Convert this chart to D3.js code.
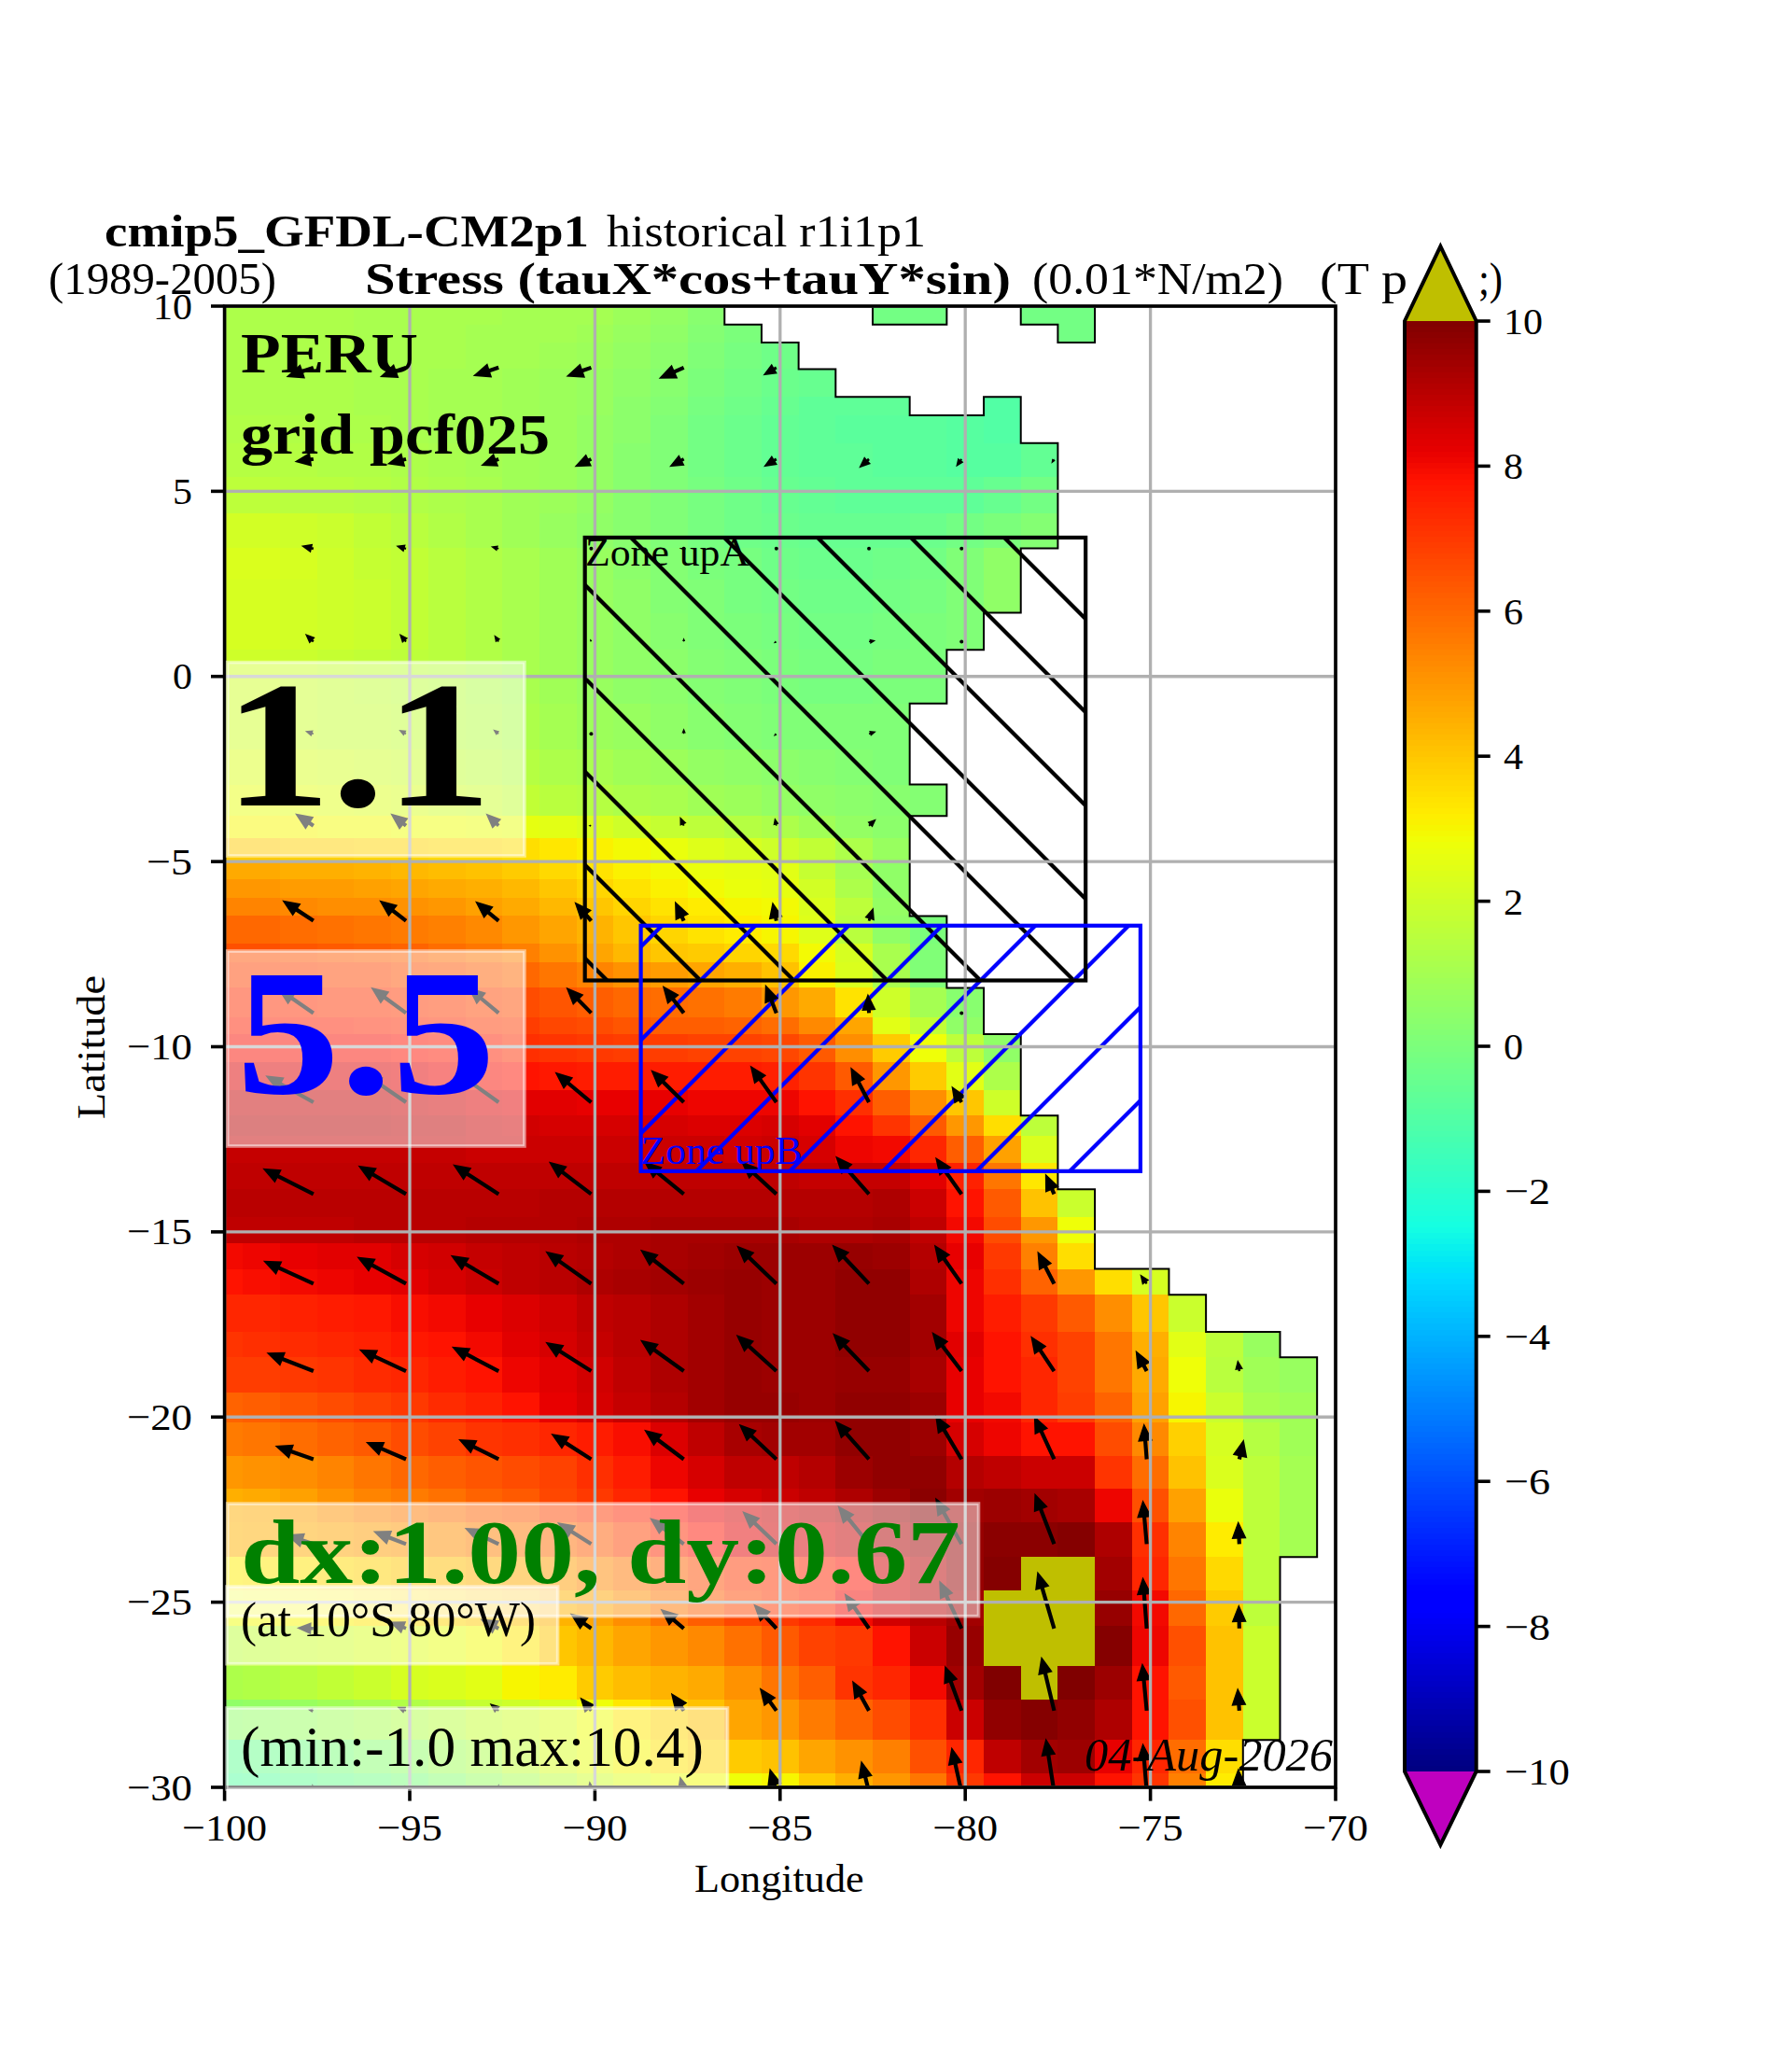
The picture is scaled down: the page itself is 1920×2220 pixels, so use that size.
<!DOCTYPE html>
<html><head><meta charset="utf-8">
<script src="https://cdnjs.cloudflare.com/ajax/libs/d3/7.8.5/d3.min.js"></script>
<style>html,body{margin:0;padding:0;background:#fff}svg{display:block}text{font-family:"Liberation Serif",serif}</style>
</head><body><div id="c"></div>
<script>
const lonTicks=[-100,-95,-90,-85,-80,-75,-70];
const latTicks=[10,5,0,-5,-10,-15,-20,-25,-30];
const cbarTicks=[10,8,6,4,2,0,-2,-4,-6,-8,-10];
const cellLons=[-100,-99,-98,-97,-96,-95,-94,-93,-92,-91,-90,-89,-88,-87,-86,-85,-84,-83,-82,-81,-80,-79,-78,-77,-76,-75,-74,-73,-72,-71,-70];
const latEdges=[10,9.5,9.02,8.3,7.55,7.05,6.3,5.4,4.4,3.46,2.61,1.72,0.72,-0.73,-1.98,-2.92,-3.77,-4.37,-4.97,-5.47,-5.97,-6.47,-7.22,-7.71,-8.41,-9.21,-9.66,-10.41,-11.16,-11.86,-12.41,-13.15,-13.85,-14.6,-15.3,-16.0,-16.7,-17.7,-18.39,-19.34,-20.14,-21.04,-21.94,-22.83,-23.78,-24.68,-25.63,-26.73,-27.62,-28.72,-29.62,-30];
const _=null;
// stress values per latitude row, from -100 eastward; a missing or null entry is land
const stress=[
[1.2,1.2,1.2,1.2,1.1,1.1,1.1,1.1,1.0,1.0,1.0,.8,.6,.3,_,_,_,_,-.2,-.2,_,_,-.2,-.2],
[1.2,1.2,1.2,1.2,1.1,1.1,1.1,1.0,1.0,1.0,.9,.7,.5,.2,0,_,_,_,_,_,_,_,_,-.2],
[1.2,1.2,1.2,1.2,1.1,1.1,1.1,1.0,1.0,.9,.8,.6,.4,.1,-.1,-.3],
[1.2,1.2,1.2,1.2,1.1,1.1,1.0,1.0,.9,.8,.7,.5,.3,0,-.2,-.4,-.5],
[1.2,1.2,1.2,1.2,1.1,1.1,1.0,1.0,.9,.8,.7,.4,.2,-.1,-.3,-.5,-.7,-.7,-.7,_,_,-1.0],
[1.3,1.3,1.3,1.2,1.2,1.1,1.0,1.0,.9,.8,.6,.4,.1,-.2,-.4,-.6,-.7,-.8,-.8,-.8,-.9,-1.0],
[1.4,1.4,1.4,1.3,1.3,1.2,1.1,1.0,.9,.8,.6,.3,.1,-.2,-.4,-.6,-.7,-.7,-.8,-.8,-.9,-.9,-.6],
[1.6,1.6,1.5,1.5,1.4,1.3,1.2,1.1,.9,.8,.6,.3,.1,-.1,-.3,-.5,-.6,-.7,-.7,-.7,-.7,-.5,-.2],
[2.1,2.1,2.0,1.9,1.7,1.5,1.3,1.1,.9,.7,.5,.3,.1,-.1,-.3,-.4,-.5,-.5,-.5,-.4,-.2,0,.2],
[2.3,2.3,2.2,2.0,1.8,1.7,1.5,1.3,1.1,.9,.7,.4,.2,0,-.1,-.3,-.4,-.4,-.3,-.2,.1,.5],
[2.2,2.2,2.1,2.0,1.9,1.7,1.5,1.3,1.1,.9,.7,.5,.2,.1,-.1,-.2,-.3,-.3,-.2,-.1,.1,.5],
[2.2,2.2,2.1,2.0,1.9,1.7,1.5,1.3,1.1,.9,.7,.5,.3,.1,0,-.1,-.2,-.2,-.1,0,.1],
[2.0,2.0,1.9,1.8,1.7,1.6,1.5,1.3,1.1,.9,.7,.5,.4,.2,.1,0,-.1,-.1,0,0],
[2.0,2.0,1.9,1.8,1.8,1.7,1.5,1.4,1.2,1.0,.8,.7,.5,.3,.2,.1,.1,.1,.1],
[2.3,2.3,2.2,2.1,2.0,1.9,1.7,1.6,1.4,1.2,1.1,.9,.8,.6,.5,.4,.3,.2,.1],
[2.6,2.6,2.5,2.4,2.3,2.2,2.0,1.9,1.7,1.5,1.4,1.2,1.1,.9,.8,.6,.5,.4,.3,.2],
[3.0,3.0,3.0,2.9,2.9,2.8,2.8,2.7,2.6,2.5,2.3,2.0,1.8,1.6,1.4,1.2,.9,.6,.4],
[3.9,3.9,3.8,3.8,3.7,3.7,3.6,3.6,3.5,3.3,3.1,2.9,2.7,2.4,2.2,2.0,1.7,1.2,.7],
[4.6,4.6,4.5,4.5,4.4,4.3,4.2,4.1,3.9,3.6,3.4,3.1,2.9,2.7,2.6,2.5,1.8,1.0,.5],
[5.0,5.0,4.9,4.9,4.8,4.7,4.6,4.5,4.3,4.0,3.7,3.4,3.1,2.9,2.7,2.6,2.1,1.2,.5],
[5.4,5.4,5.3,5.2,5.2,5.1,5.0,4.8,4.6,4.3,4.0,3.7,3.4,3.2,3.0,2.9,2.3,1.6,.6],
[6.0,6.0,5.9,5.8,5.7,5.6,5.5,5.3,5.0,4.7,4.4,4.0,3.7,3.4,3.2,3.0,2.4,1.5,.5,0],
[6.5,6.5,6.4,6.3,6.2,6.1,5.9,5.7,5.5,5.1,4.7,4.3,4.0,3.9,3.7,3.6,2.9,2.2,1.1,.1],
[6.8,6.8,6.8,6.7,6.7,6.5,6.4,6.2,6.0,5.7,5.4,5.1,4.9,4.7,4.5,4.1,3.1,2.3,1.1,.1],
[7.2,7.2,7.2,7.1,7.1,7.0,6.9,6.7,6.6,6.4,6.2,6.0,5.9,5.8,5.6,5.0,4.6,3.4,2.0,1.0,.3],
[7.5,7.5,7.5,7.5,7.4,7.3,7.2,7.0,6.9,6.7,6.6,6.4,6.2,6.2,6.1,5.9,5.3,4.7,2.5,1.7,.5],
[7.9,7.9,7.9,7.9,7.9,7.8,7.7,7.5,7.2,7.1,7.0,6.9,6.9,6.8,6.8,6.7,6.3,5.2,3.9,2.8,1.6,.5],
[8.4,8.4,8.4,8.4,8.4,8.3,8.1,7.9,7.8,7.7,7.6,7.6,7.6,7.6,7.6,7.5,7.1,6.3,5.0,3.9,2.5,1.2],
[8.8,8.8,8.8,8.8,8.8,8.7,8.6,8.4,8.3,8.3,8.2,8.2,8.2,8.1,8.1,8.1,7.8,7.2,6.2,5.2,4.0,2.0],
[9.0,9.0,9.0,9.0,9.0,8.9,8.9,8.7,8.6,8.5,8.5,8.5,8.5,8.4,8.4,8.5,8.3,7.8,7.1,6.3,5.0,3.5,1.6],
[8.8,8.8,8.8,8.8,8.8,8.8,8.8,8.7,8.7,8.7,8.7,8.7,8.7,8.7,8.6,8.7,8.5,8.1,8.0,7.4,6.2,4.8,2.3],
[8.9,8.9,8.9,8.9,8.9,8.9,8.9,8.9,8.9,8.9,8.9,8.9,8.9,8.9,8.9,8.9,8.8,8.8,8.8,8.3,7.5,5.7,3.3],
[9.0,9.0,9.0,9.0,9.0,9.0,9.0,9.0,9.0,9.1,9.1,9.1,9.1,9.1,9.1,9.1,9.1,9.1,9.2,8.7,7.8,6.3,4.1,1.9],
[8.9,8.9,8.9,8.9,9.0,9.0,9.0,9.1,9.1,9.1,9.2,9.2,9.3,9.3,9.3,9.3,9.2,9.2,9.3,8.9,8.0,6.6,5.0,2.8],
[8.0,8.1,8.2,8.3,8.3,8.5,8.6,8.8,8.9,9.0,9.1,9.2,9.3,9.4,9.5,9.5,9.5,9.6,9.5,9.1,8.2,7.0,5.5,3.5],
[7.8,7.9,8.0,8.1,8.2,8.3,8.5,8.7,8.9,9.0,9.2,9.3,9.4,9.5,9.6,9.5,9.5,9.7,9.7,9.2,8.1,7.2,6.1,5.0,3.5,2.2],
[7.4,7.4,7.5,7.6,7.7,7.9,8.0,8.2,8.4,8.6,8.9,9.0,9.2,9.4,9.6,9.5,9.5,9.7,9.7,9.4,8.1,7.6,7.0,6.3,5.2,4.0,1.9],
[7.1,7.2,7.3,7.4,7.5,7.7,7.8,8.0,8.3,8.5,8.8,9.0,9.2,9.4,9.6,9.5,9.5,9.7,9.7,9.4,8.3,7.8,7.2,6.8,5.7,4.5,2.5,1.6,.7],
[6.9,6.9,7.0,7.1,7.3,7.4,7.6,7.8,8.1,8.3,8.6,8.9,9.2,9.4,9.6,9.5,9.5,9.6,9.6,9.3,8.2,7.8,7.4,6.8,5.7,4.6,2.8,1.5,.9,.7],
[6.1,6.2,6.4,6.6,6.8,7.0,7.3,7.5,7.8,8.2,8.5,8.8,9.1,9.4,9.6,9.6,9.5,9.7,9.7,9.5,8.2,8.0,7.4,6.9,6.1,4.8,3.0,1.9,1.1,.9],
[5.6,5.7,5.9,6.1,6.3,6.6,6.8,7.1,7.2,7.4,7.6,7.9,8.4,8.9,9.3,9.4,9.4,9.7,9.7,9.5,8.5,8.1,7.8,7.8,6.6,5.3,3.8,2.2,1.4,.9],
[5.0,5.1,5.2,5.4,5.7,6.0,6.2,6.4,6.6,6.8,7.2,7.6,8.1,8.5,8.9,8.9,9.1,9.5,9.7,9.7,9.1,8.9,8.7,8.7,7.1,5.9,4.1,2.3,1.6,1.0],
[4.5,4.6,4.8,5.1,5.4,5.6,5.8,6.1,6.3,6.7,7.0,7.4,7.8,8.2,8.5,8.7,8.9,9.2,9.5,9.8,9.4,9.5,9.4,9.3,8.1,6.5,4.8,2.7,1.6,1.0],
[4.4,4.5,4.6,4.7,4.9,5.0,5.2,5.5,5.7,5.9,6.3,6.8,7.3,7.8,8.3,8.6,8.5,8.8,9.2,9.4,9.6,9.8,9.8,9.9,9.2,7.2,5.4,3.2,1.6,1.0],
[3.2,3.3,3.4,3.6,3.8,4.0,4.2,4.4,4.6,4.9,5.3,5.7,6.1,6.6,7.0,7.1,7.4,7.8,8.6,9.0,9.6,9.9,10.3,10.4,9.4,7.4,5.7,3.6,1.6],
[2.8,2.9,3.0,3.1,3.3,3.5,3.7,3.9,4.1,4.4,4.7,5.2,5.7,6.2,6.7,7.0,7.3,8.0,8.6,9.0,9.4,10.2,10.3,10.3,9.6,8.0,6.0,3.9,1.6],
[1.6,1.7,1.9,2.0,2.2,2.4,2.6,2.9,3.3,4.0,4.3,4.7,5.0,5.3,5.8,6.3,6.8,7.0,7.8,8.7,9.6,10.2,10.4,10.3,9.9,8.1,6.5,4.1,1.9],
[1.2,1.3,1.5,1.7,1.9,2.2,2.3,2.5,3.0,3.2,3.9,4.2,4.4,4.6,5.1,5.7,6.2,7.1,7.4,8.0,9.4,10.0,10.2,10.0,9.5,7.8,6.3,4.1,1.9],
[.5,.6,.7,.9,1.1,1.3,1.5,1.8,2.0,2.3,2.8,3.3,3.7,4.1,4.7,5.0,5.6,6.1,6.6,7.2,8.7,9.7,9.9,9.7,9.2,7.8,6.5,4.1,1.9],
[-.6,-.4,-.2,0,.3,.5,.9,1.2,1.7,2.2,2.6,3.0,3.4,3.7,3.9,4.1,4.7,5.1,5.5,6.5,7.4,8.9,9.4,9.5,8.2,7.4,5.9,3.5],
[-.9,-.8,-.6,-.4,-.2,0,.3,.7,1.1,1.6,2.0,2.4,2.7,2.9,2.8,3.0,3.9,4.5,5.0,5.7,7.0,7.8,8.7,8.7,7.8,7.1,5.5,3.2]
];
const arrowLons=[-97.6,-95.1,-92.6,-90.1,-87.6,-85.1,-82.6,-80.1,-77.6,-75.1,-72.6];
const arrowLats=[8.34,5.87,3.45,.94,-1.55,-4.03,-6.6,-9.09,-11.5,-13.98,-16.4,-18.76,-21.14,-23.43,-25.71,-27.93,-30.12];
const arrowU=[
[-4.9,-4.7,-4.6,-4.5,-4.5,-2.4],
[-3.4,-3.4,-3.2,-3.0,-2.6,-2.3,-1.8,-1,-.5],
[-2.2,-1.8,-1.4,0,0,0,0,0],
[-1.5,-1.2,-.8,-.2,0,-.5,1.2,0],
[-1.5,-1.3,-1,-.2,0,-.5,1.3],
[-3.3,-2.8,-2.3,-.5,-.7,-.3,1.3],
[-5.6,-4.8,-4.2,-3,-1.6,-.7,.8],
[-6.4,-6.3,-5.5,-4.5,-3.8,-2,-.2,0],
[-8.6,-7.4,-7.4,-6.5,-5.9,-4.7,-3.3,-1.8],
[-9.1,-8.6,-8.2,-7.6,-7.1,-6.3,-6,-4.7,-1.6],
[-9,-8.8,-8.6,-8.2,-7.8,-7.1,-6.6,-4.9,-3,-1.2],
[-8.4,-8.4,-8.4,-8.2,-7.8,-7.2,-6.5,-5.3,-4.2,-2,-.3],
[-6.9,-7.2,-7.2,-7.2,-7.1,-6.7,-6.1,-4.7,-3.6,-.5,.8],
[-4.9,-5.9,-6.1,-6.1,-6.1,-6.1,-5.6,-4.7,-3.5,-.7,-.2],
[-3,-3,-3.3,-3.8,-4.2,-4.1,-4.4,-4,-3,-.7,-.1],
[-1,-1.6,-1.6,-2,-2.3,-3,-3,-3,-2.3,-.8,-.3],
[-.2,-.2,0,-.3,-.7,-1.2,-1.4,-1.8,-1.5,-.7,-.2]
];
const arrowV=[
[-1.7,-1.7,-1.5,-1.6,-2,-1.4],
[-.5,-.9,-1.2,-1.4,-1.4,-1.4,-1.6,-1.4,-.8],
[.5,.5,.4,0,0,0,0,0],
[1.4,1.4,1.2,.5,.7,-.3,.2,0],
[.5,.7,.8,.4,1,-.4,.4],
[2.2,2.2,2.2,0,1.6,1.4,1.2],
[3.7,3.7,3.5,3.4,3.5,3.4,2.4],
[4.4,4.6,4.6,4.6,4.9,5.1,3.5,0],
[4.8,5.1,5.3,5.4,5.8,6.6,6.3,2.9],
[4.6,5.1,5.3,5.8,5.8,5.8,6.8,6.6,3.7],
[4.1,4.8,5.1,5.8,6.1,6.8,7,7,5.8,1.7],
[3.3,3.9,4.4,5.2,5.6,6.5,6.8,7,6.3,3.7,2],
[2.4,3.1,3.6,4.6,5.3,6.3,6.9,7.9,7.8,6.4,3.6],
[1.7,2.3,2.9,3.9,4.7,5.9,6.9,8.3,9.1,7.9,4.1],
[.1,1.2,1.7,2.7,3.5,4.4,6.3,8.6,10.2,9.2,4.3],
[.2,.7,1.3,2.4,3.2,4.1,5.4,8.1,9.7,8.5,4.1],
[1.4,1.2,1.4,1.9,2.8,4.2,5.6,8,9.6,8.7,4.2]
];

const W=1920,H=2220;
const L=240.6,R=1431,T=328,B=1915;
const x=d3.scaleLinear().domain([-100,-70]).range([L,R]);
const y=d3.scaleLinear().domain([10,-30]).range([T,B]);
const vecPx=d3.scaleLinear().domain([0,1]).range([0,6]);
const rS=d3.scaleLinear().domain([0,.35,.66,.89,1]).range([0,0,1,1,.5]).clamp(true);
const gS=d3.scaleLinear().domain([0,.125,.375,.64,.91,1]).range([0,0,1,1,0,0]).clamp(true);
const bS=d3.scaleLinear().domain([0,.11,.34,.65,1]).range([.5,1,1,0,0]).clamp(true);
const tS=d3.scaleLinear().domain([-10,10]).range([0,1]);
const OVER='#bfbf00',UNDER='#bf00bf';
function jet(v){
  if(v>10)return OVER; if(v<-10)return UNDER;
  const t=tS(v);
  return d3.rgb(rS(t)*255,gS(t)*255,bS(t)*255).formatHex();
}
const LW=3.6, MINUS='\u2212';
const svg=d3.select('#c').append('svg').attr('width',W).attr('height',H).attr('viewBox',`0 0 ${W} ${H}`);
svg.append('rect').attr('width',W).attr('height',H).attr('fill','#fff');
const defs=svg.append('defs');
defs.append('clipPath').attr('id','plot').append('rect').attr('x',L).attr('y',T).attr('width',R-L).attr('height',B-T);
function txt(p,x0,x1,base,s,o={}){
  const t=p.append('text').attr('x',x0).attr('y',base).text(s)
    .attr('font-size',o.size||40).attr('fill',o.fill||'#000');
  if(o.bold)t.attr('font-weight','bold');
  if(o.italic)t.attr('font-style','italic');
  if(x1!=null)t.attr('textLength',x1-x0).attr('lengthAdjust','spacingAndGlyphs');
  return t;
}
// titles
txt(svg,112,631,264,'cmip5_GFDL-CM2p1',{size:48,bold:true});
txt(svg,650,992,264,'historical r1i1p1',{size:48});
txt(svg,52,296,315,'(1989-2005)',{size:48});
txt(svg,391,1083,315,'Stress (tauX*cos+tauY*sin)',{size:48,bold:true});
txt(svg,1106,1375,315,'(0.01*N/m2)',{size:48});
txt(svg,1414,1508,315,'(T p',{size:48});
txt(svg,1584,1610,315,';)',{size:48});

const plot=svg.append('g').attr('clip-path','url(#plot)');
// cells
const cells=[];
stress.forEach((row,j)=>row.forEach((v,i)=>{ if(v!==null&&v!==undefined)cells.push({i,j,v}); }));
plot.append('g').attr('shape-rendering','crispEdges').selectAll('rect').data(cells).join('rect')
  .attr('x',d=>x(cellLons[d.i]-.5)).attr('width',d=>x(cellLons[d.i]+.5)-x(cellLons[d.i]-.5)+.5)
  .attr('y',d=>y(latEdges[d.j])).attr('height',d=>y(latEdges[d.j+1])-y(latEdges[d.j])+.5)
  .attr('fill',d=>jet(d.v));
// coastline: every edge between an ocean cell and a land cell
const isSea=(j,i)=>{const r=stress[j];if(!r)return null;const v=r[i];return !(v===null||v===undefined);};
let coast='';
stress.forEach((row,j)=>cellLons.forEach((lon,i)=>{
  if(!isSea(j,i))return;
  const x0=x(lon-.5),x1=x(lon+.5),y0=y(latEdges[j]),y1=y(latEdges[j+1]);
  if(i<30&&!isSea(j,i+1))coast+=`M${x1},${y0}L${x1},${y1}`;
  if(i>0&&!isSea(j,i-1))coast+=`M${x0},${y0}L${x0},${y1}`;
  if(j>0&&!isSea(j-1,i))coast+=`M${x0},${y0}L${x1},${y0}`;
  if(j<stress.length-1&&!isSea(j+1,i))coast+=`M${x0},${y1}L${x1},${y1}`;
}));
plot.append('path').attr('d',coast).attr('fill','none').attr('stroke','#000').attr('stroke-width',2).attr('stroke-linecap','square');
// zones
const zoneA={lon:[-90.27,-76.75],lat:[3.75,-8.21],color:'#000',sign:1,c0:0};
const zoneB={lon:[-88.76,-75.27],lat:[-6.73,-13.36],color:'#0000ff',sign:-1,c0:1801};
[zoneA,zoneB].forEach((z,k)=>{
  const xa=x(z.lon[0]),xb=x(z.lon[1]),ya=y(z.lat[0]),yb=y(z.lat[1]);
  defs.append('clipPath').attr('id','z'+k).append('rect').attr('x',xa).attr('y',ya).attr('width',xb-xa).attr('height',yb-ya);
  const g=plot.append('g').attr('clip-path',`url(#z${k})`);
  const lines=d3.range(-30,30).map(n=>z.c0+n*100);
  g.selectAll('line').data(lines).join('line')
    .attr('x1',xa-50).attr('x2',xb+50)
    .attr('y1',c=>z.sign>0?xa-50+c:c-(xa-50))
    .attr('y2',c=>z.sign>0?xb+50+c:c-(xb+50))
    .attr('stroke',z.color).attr('stroke-width',4.2);
});
// arrows
const aw=2.1,hw=8,hl=22,hal=19;
function arrowPath(dx,dy){
  const len=Math.hypot(dx,dy);
  if(len<3)return null;
  const s=len<hl?len/hl:1, a=Math.atan2(dy,dx), ca=Math.cos(a), sa=Math.sin(a);
  const ws=aw*s,hs=hw*s,ax=len-hal*s;
  const pts=[[0,-ws],[ax,-ws],[ax,-hs],[len,0],[ax,hs],[ax,ws],[0,ws]];
  return 'M'+pts.map(p=>[p[0]*ca-p[1]*sa,p[0]*sa+p[1]*ca].map(n=>n.toFixed(2)).join(',')).join('L')+'Z';
}
const arrows=[];
arrowU.forEach((row,j)=>row.forEach((u,i)=>arrows.push({lon:arrowLons[i],lat:arrowLats[j],u,v:arrowV[j][i]})));
const ag=plot.append('g');
arrows.forEach(d=>{
  const dx=Math.sign(d.u)*vecPx(Math.abs(d.u)),dy=-Math.sign(d.v)*vecPx(Math.abs(d.v));
  const p=arrowPath(dx,dy);
  const g=ag.append('g').attr('transform',`translate(${x(d.lon)},${y(d.lat)})`);
  if(p)g.append('path').attr('d',p).attr('fill','#000');
  else g.append('circle').attr('r',2).attr('fill','#000');
});
// grid
const grid=svg.append('g').attr('stroke','#b0b0b0').attr('stroke-width',3.3);
grid.selectAll('.gx').data(lonTicks).join('line').attr('x1',d=>x(d)).attr('x2',d=>x(d)).attr('y1',T).attr('y2',B);
grid.selectAll('.gy').data(latTicks).join('line').attr('y1',d=>y(d)).attr('y2',d=>y(d)).attr('x1',L).attr('x2',R);
// zone frames and labels
[zoneA,zoneB].forEach(z=>{
  svg.append('rect').attr('x',x(z.lon[0])).attr('y',y(z.lat[0])).attr('width',x(z.lon[1])-x(z.lon[0])).attr('height',y(z.lat[1])-y(z.lat[0]))
    .attr('fill','none').attr('stroke',z.color).attr('stroke-width',4.2);
});
txt(svg,627,803,606,'Zone upA',{size:42});
txt(svg,686.6,859.5,1247,'Zone upB',{size:42,fill:'#0000ff'});
// spines and ticks
const frame=svg.append('g');
frame.append('rect').attr('x',L).attr('y',T).attr('width',R-L).attr('height',B-T).attr('fill','none').attr('stroke','#000').attr('stroke-width',LW);
frame.selectAll('.tx').data(lonTicks).join('line').attr('x1',d=>x(d)).attr('x2',d=>x(d)).attr('y1',B).attr('y2',B+14.6).attr('stroke','#000').attr('stroke-width',LW);
frame.selectAll('.ty').data(latTicks).join('line').attr('y1',d=>y(d)).attr('y2',d=>y(d)).attr('x1',L-14.6).attr('x2',L).attr('stroke','#000').attr('stroke-width',LW);
const fmt=d=>(d<0?MINUS:'')+Math.abs(d);
const lblW=d=>String(Math.abs(d)).length*21+(d<0?28:0);
frame.selectAll('.lx').data(lonTicks).join('text').attr('x',d=>x(d)).attr('y',1972).attr('text-anchor','middle').attr('font-size',41)
  .attr('textLength',lblW).attr('lengthAdjust','spacingAndGlyphs').text(fmt);
frame.selectAll('.ly').data(latTicks).join('text').attr('x',206).attr('y',d=>y(d)+13.5).attr('text-anchor','end').attr('font-size',41)
  .attr('textLength',lblW).attr('lengthAdjust','spacingAndGlyphs').text(fmt);
txt(svg,744,925.7,2026.7,'Longitude',{size:42});
svg.append('text').attr('transform','translate(111.7,1199) rotate(-90)').attr('font-size',42).attr('textLength',154).attr('lengthAdjust','spacingAndGlyphs').text('Latitude');
// text boxes
const boxes=[
 {x:243.7,y:709.6,w:318.3,h:207.4},
 {x:243.7,y:1019,w:318.3,h:209},
 {x:243.7,y:1611,w:804.8,h:120.7},
 {x:243,y:1700,w:354.6,h:82.7},
 {x:243,y:1830,w:536.5,h:87}
];
svg.append('g').selectAll('rect').data(boxes).join('rect')
  .attr('x',d=>d.x).attr('y',d=>d.y).attr('width',d=>d.w).attr('height',d=>d.h)
  .attr('fill','#fff').attr('fill-opacity',.5).attr('stroke','#fff').attr('stroke-opacity',.5).attr('stroke-width',LW);
txt(svg,258,448,399,'PERU',{size:62,bold:true});
txt(svg,258,589,486,'grid pcf025',{size:62,bold:true});
txt(svg,240,527,863,'1.1',{size:193,bold:true});
txt(svg,253,531,1171.4,'5.5',{size:193,bold:true,fill:'#0000ff'});
txt(svg,258,1029,1696,'dx:1.00, dy:0.67',{size:97,bold:true,fill:'#008000'});
txt(svg,258,574,1753,'(at 10°S 80°W)',{size:52});
txt(svg,258,754,1891.7,'(min:-1.0 max:10.4)',{size:62});
txt(svg,1162,1428,1896.7,'04-Aug-2026',{size:50,italic:true});
// colorbar
const cbL=1505,cbR=1581.7,cbT=344,cbB=1898,cbMid=(cbL+cbR)/2;
const cy=d3.scaleLinear().domain([10,-10]).range([cbT,cbB]);
const cb=svg.append('g');
cb.append('g').attr('shape-rendering','crispEdges').selectAll('rect').data(d3.range(256)).join('rect')
  .attr('x',cbL).attr('width',cbR-cbL)
  .attr('y',i=>cy(10-i*20/256)).attr('height',(cbB-cbT)/256+1)
  .attr('fill',i=>jet(10-(i+.5)*20/256));
cb.append('path').attr('d',`M${cbL},${cbT}L${cbMid},264L${cbR},${cbT}Z`).attr('fill',OVER);
cb.append('path').attr('d',`M${cbL},${cbB}L${cbMid},1976.7L${cbR},${cbB}Z`).attr('fill',UNDER);
cb.append('path').attr('d',`M${cbL},${cbT}L${cbMid},264L${cbR},${cbT}L${cbR},${cbB}L${cbMid},1976.7L${cbL},${cbB}Z`)
  .attr('fill','none').attr('stroke','#000').attr('stroke-width',LW+.4);
cb.selectAll('.t').data(cbarTicks).join('line').attr('x1',cbR).attr('x2',cbR+15).attr('y1',d=>cy(d)).attr('y2',d=>cy(d)).attr('stroke','#000').attr('stroke-width',LW);
cb.selectAll('.l').data(cbarTicks).join('text').attr('x',d=>d<0?1612:1611).attr('y',d=>cy(d)+14).attr('font-size',41)
  .attr('textLength',lblW).attr('lengthAdjust','spacingAndGlyphs').text(fmt);
</script></body></html>
